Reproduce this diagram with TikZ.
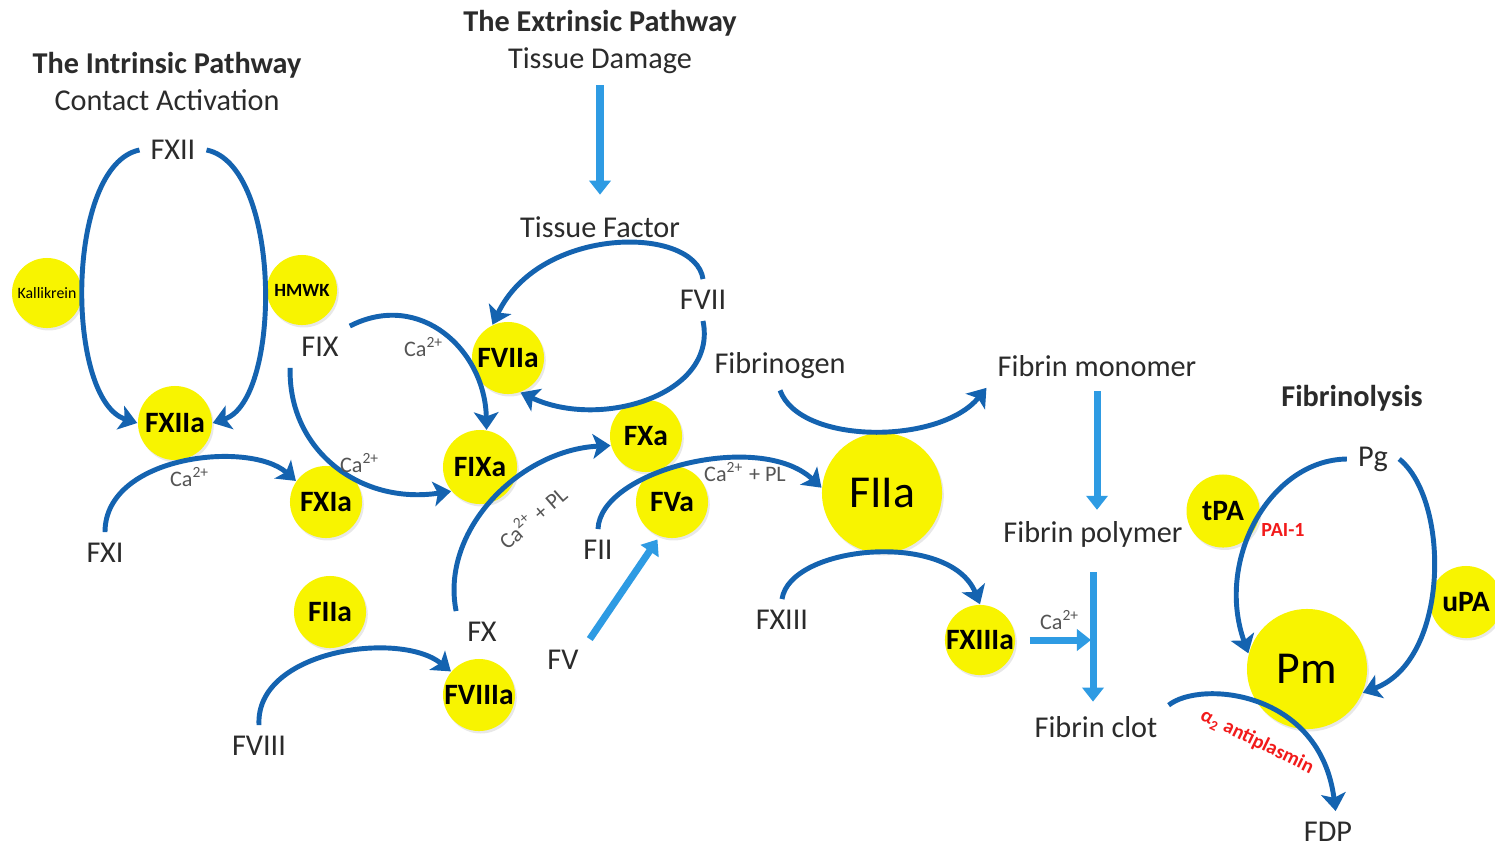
\documentclass[tikz,border=0pt]{standalone}
\usepackage{fontspec}
\setmainfont{Carlito}
\usepackage{xcolor}
\definecolor{textgray}{HTML}{2B2B2B}
\definecolor{iongray}{HTML}{555555}
\definecolor{arcblue}{HTML}{1463B0}
\definecolor{lineblue}{HTML}{2E9BE3}
\definecolor{enzfill}{HTML}{F8F400}
\definecolor{inhibred}{HTML}{F21B1B}
\usepackage{tikz}
\usetikzlibrary{positioning,arrows.meta,shadows}
\newcommand{\lblfont}{\fontsize{8.6}{10}\selectfont}
\newcommand{\ionfont}{\fontsize{6.3}{7}\selectfont}
\tikzset{
    heading/.style={
        font=\lblfont\bfseries,
        text=textgray,
        inner sep=3pt,
    },
    factor/.style={
        font=\lblfont,
        text=textgray,
        inner sep=3pt,
    },
    enzyme/.style={
        circle,
        fill=enzfill,
        minimum size=0.72cm,
        inner sep=0pt,
        text=black,
        font=\fontsize{8.4}{9}\selectfont\bfseries,
        drop shadow={shadow xshift=0.5pt, shadow yshift=-0.7pt, opacity=0.18},
    },
    bigenzyme/.style={
        enzyme,
        minimum size=1.2cm,
        font=\fontsize{13}{14}\selectfont,
    },
    ion/.style={
        font=\ionfont,
        text=iongray,
        inner sep=1pt,
    },
    inhib/.style={
        font=\fontsize{5.7}{6}\selectfont\bfseries,
        text=inhibred,
        inner sep=1pt,
    },
    flow/.style={
        -{Stealth[length=5pt,width=7pt,inset=1.2pt]},
        line width=1.4pt,
        arcblue,
    },
    push/.style={
        -{Triangle[length=4pt,width=6pt]},
        line width=2pt,
        lineblue,
    },
}

\begin{document}
\begin{tikzpicture}[x=0.01cm,y=-0.01cm]
    \fill[white] (0,0) rectangle (1495,845);
    \useasboundingbox (0,0) rectangle (1495,845);

    \node[heading] (intr) at (167,65) {The Intrinsic Pathway};
    \node[factor, below=-3pt of intr] (contact) {Contact Activation};
    \node[heading] (extr) at (600,23) {The Extrinsic Pathway};
    \node[factor, below=-3pt of extr] (tdam) {Tissue Damage};
    \node[heading] (lysis) at (1352,398) {Fibrinolysis};

    \node[factor] (tfac) at (600,227) {Tissue Factor};
    \node[factor] (fxii) at (173,150) {FXII};
    \node[factor] (fix) at (320,347) {FIX};
    \node[factor] (fvii) at (703,300) {FVII};
    \node[factor] (fgen) at (780,366) {Fibrinogen};
    \node[factor] (fmono) at (1097,366) {Fibrin monomer};
    \node[factor] (fpoly) at (1093,534) {Fibrin polymer};
    \node[factor] (fclot) at (1096,727) {Fibrin clot};
    \node[factor] (fxi) at (105,553) {FXI};
    \node[factor] (fii) at (598,550) {FII};
    \node[factor] (fx) at (482,632) {FX};
    \node[factor] (fv) at (563,660) {FV};
    \node[factor] (fxiii) at (782,620) {FXIII};
    \node[factor] (fviii) at (259,746) {FVIII};
    \node[factor] (pg) at (1373,459) {Pg};
    \node[factor] (fdp) at (1328,832) {FDP};

    \node[enzyme, minimum size=0.70cm, font=\fontsize{4.5}{5}\selectfont] (kal) at (47,293) {Kallikrein};
    \node[enzyme, minimum size=0.70cm, font=\fontsize{5.3}{6}\selectfont\bfseries] (hmwk) at (302,290) {HMWK};
    \node[enzyme, minimum size=0.74cm] (fxiia) at (175,423) {FXIIa};
    \node[enzyme] (fxia) at (326,502) {FXIa};
    \node[enzyme] (fviia) at (508,358) {FVIIa};
    \node[enzyme, minimum size=0.74cm] (fixa) at (480,467) {FIXa};
    \node[enzyme] (fxa) at (646,436) {FXa};
    \node[enzyme] (fva) at (672,502) {FVa};
    \node[bigenzyme] (fiia) at (882,493) {FIIa};
    \node[enzyme] (fiib) at (330,612) {FIIa};
    \node[enzyme] (fviiia) at (479,695) {FVIIIa};
    \node[enzyme, minimum size=0.70cm] (fxiiia) at (980,640) {FXIIIa};
    \node[enzyme, minimum size=0.73cm] (tpa) at (1223,511) {tPA};
    \node[enzyme] (upa) at (1466,602) {uPA};
    \node[bigenzyme] (pm) at (1307,669) {Pm};

    \coordinate (clotin) at (1091,640);

    \draw[flow] (fxii.west) .. controls (65,165) and (65,400) .. (fxiia.west);
    \draw[flow] (fxii.east) .. controls (282,165) and (282,400) .. (fxiia.east);
    \draw[flow] (fxi.north) .. controls (105,455) and (250,440) .. (fxia.145);
    \draw[flow] (fix.south west) .. controls (288,450) and (360,505) .. (fixa.220);
    \draw[flow] (fix.north east) .. controls (420,290) and (485,350) .. (fixa.80);
    \draw[flow] (fvii.north) .. controls (695,225) and (540,225) .. (fviia.115);
    \draw[flow] (fvii.south) .. controls (718,395) and (600,430) .. (fviia.290);
    \draw[flow] (fx.north west) .. controls (440,530) and (520,450) .. (fxa.195);
    \draw[flow] (fii.north) .. controls (600,470) and (760,430) .. (fiia.175);
    \draw[flow] (fgen.south) .. controls (800,445) and (940,445) .. (fmono.south west);
    \draw[flow] (fxiii.north) .. controls (790,545) and (950,530) .. (fxiiia.north);
    \draw[flow] (fviii.north) .. controls (255,650) and (400,630) .. (fviiia.140);
    \draw[flow] (pg.west) .. controls (1270,460) and (1215,560) .. (pm.165);
    \draw[flow] (pg.east) .. controls (1450,500) and (1450,660) .. (pm.-23);
    \draw[flow] (fclot.north east) .. controls (1200,680) and (1320,690) .. (fdp.70);

    \draw[push, shorten >=3pt] (tdam.south) -- (tfac.north);
    \draw[push, shorten >=1pt] (fv.north east) -- (fva.250);
    \draw[push, shorten <=1pt] (fmono.south) -- (fmono.south |- fpoly.north);
    \draw[push, shorten <=4pt, shorten >=1pt] (fpoly.south) -- (fpoly.south |- fclot.north);
    \draw[push, shorten <=4pt] (fxiiia.east) -- (clotin);

    \node[ion] (ca1) at (424,347) {Ca\textsuperscript{2+}};
    \node[ion] (ca2) at (360,463) {Ca\textsuperscript{2+}};
    \node[ion] (ca3) at (190,477) {Ca\textsuperscript{2+}};
    \node[ion, rotate=41] (capl1) at (532,517) {Ca\textsuperscript{2+} + PL};
    \node[ion] (capl2) at (745,472) {Ca\textsuperscript{2+} + PL};
    \node[ion] (ca4) at (1060,620) {Ca\textsuperscript{2+}};
    \node[inhib] (pai) at (1283,530) {PAI-1};
    \node[inhib, rotate=-26] (antipl) at (1257,742) {α\textsubscript{2} antiplasmin};
\end{tikzpicture}
\end{document}
